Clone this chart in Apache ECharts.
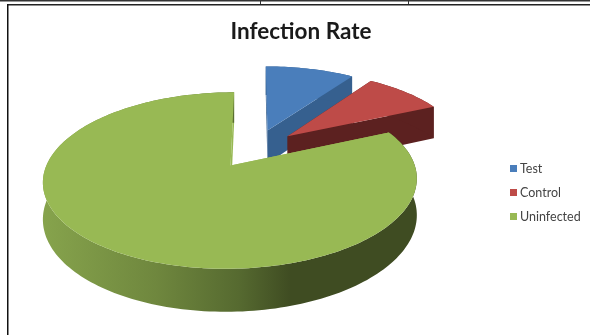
<!DOCTYPE html>
<html>
<head>
<meta charset="utf-8">
<style>html,body{margin:0;padding:0;background:#fff}#c{width:590px;height:335px;filter:blur(0.45px)}</style>
<script src="https://cdn.jsdelivr.net/npm/echarts@6/dist/echarts.min.js"></script>
</head>
<body>
<div id="c"></div>
<script>
const titleText = 'Infection Rate';
const categories = ['Test', 'Control', 'Uninfected'];
const values = [9.6, 8.6, 81.8];
const topColors = ['#4a7ebb', '#be4b48', '#98b954'];
const wallColors = ['#36608f', '#5c2120', '#98b954'];

const chart = echarts.init(document.getElementById('c'), null, {renderer: 'canvas'});
const total = values.reduce((a, b) => a + b, 0);

// projection of the tilted disc
const CX = 255, CY = 148.5, RX = 178, RY = 80, PERSP = 0.164, THICK = 34.5, EXPLODE = 0.245;
function project(u, v, z) {
  const k = 1 / (1 - PERSP * v);
  return [CX + RX * u * k, CY + RY * v * k + z * THICK * k];
}
function sliceShapes(i) {
  let before = 0;
  for (let j = 0; j < i; j++) before += values[j];
  const a0 = before / total * 2 * Math.PI;
  const a1 = (before + values[i]) / total * 2 * Math.PI;
  const mid = (a0 + a1) / 2;
  const ou = EXPLODE * Math.sin(mid), ov = -EXPLODE * Math.cos(mid);
  const n = Math.max(8, Math.round((a1 - a0) * 40));
  const arc = [];
  for (let s = 0; s <= n; s++) {
    const a = a0 + (a1 - a0) * s / n;
    arc.push([ou + Math.sin(a), ov - Math.cos(a)]);
  }
  const apex = [ou, ov];
  const up = p => project(p[0], p[1], 0);
  const dn = p => project(p[0], p[1], 1);
  return {
    top: [up(apex)].concat(arc.map(up)),
    rim: arc.map(up).concat(arc.slice().reverse().map(dn)),
    cutA: [up(apex), up(arc[0]), dn(arc[0]), dn(apex)],
    cutB: [up(apex), up(arc[n]), dn(arc[n]), dn(apex)]
  };
}
function renderSlice(i) {
  return function () {
    const s = sliceShapes(i);
    const rimFill = i === 2
      ? new echarts.graphic.LinearGradient(44, 0, 418, 0, [
          {offset: 0, color: '#86a34c'},
          {offset: 0.3, color: '#6f873e'},
          {offset: 0.52, color: '#566a30'},
          {offset: 0.66, color: '#3f4c22'},
          {offset: 1, color: '#3f4c22'}
        ], true)
      : wallColors[i];
    const poly = (points, fill) => ({type: 'polygon', shape: {points}, style: {fill}, silent: true});
    return {
      type: 'group',
      children: [
        poly(s.cutA, wallColors[i]),
        poly(s.cutB, wallColors[i]),
        poly(s.rim, rimFill),
        poly(s.top, topColors[i])
      ]
    };
  };
}

chart.setOption({
  animation: false,
  backgroundColor: '#fff',
  title: {
    text: titleText, left: 296, top: 15, textAlign: 'center',
    textStyle: {fontFamily: 'Lato', fontWeight: 'bold', fontSize: 22.5, color: '#1a1a1a'}
  },
  legend: {
    orient: 'vertical', left: 505, top: 157, itemWidth: 7, itemHeight: 7, itemGap: 11, icon: 'rect',
    data: categories,
    textStyle: {fontFamily: 'Lato', fontSize: 12.5, color: '#444', padding: [0, 0, 0, -2]}
  },
  graphic: [
    {type: 'rect', shape: {x: 0, y: 0, width: 590, height: 1.5}, style: {fill: '#333'}},
    {type: 'rect', shape: {x: 7, y: 4, width: 583, height: 1.5}, style: {fill: '#222'}},
    {type: 'rect', shape: {x: 7, y: 4, width: 1.5, height: 331}, style: {fill: '#111'}},
    {type: 'rect', shape: {x: 260, y: 0, width: 1, height: 4}, style: {fill: '#333'}},
    {type: 'rect', shape: {x: 408, y: 0, width: 1, height: 4}, style: {fill: '#333'}}
  ],
  series: categories.map((name, i) => ({
    type: 'custom',
    name,
    coordinateSystem: 'none',
    itemStyle: {color: topColors[i]},
    renderItem: renderSlice(i),
    data: [values[i]]
  }))
});
</script>
</body>
</html>
